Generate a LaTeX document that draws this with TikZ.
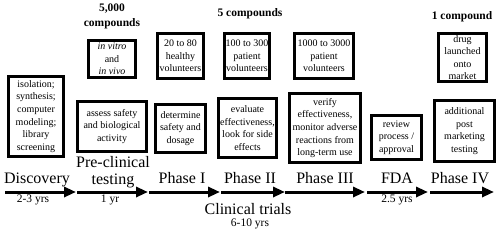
\documentclass[tikz,border=0pt]{standalone}
\usepackage{fontspec}
\setmainfont{Liberation Serif}
\usetikzlibrary{arrows.meta,positioning}
\tikzset{
  stepbox/.style={draw, line width=3pt, align=center, inner sep=1pt, font=\fontsize{10}{12.6}\selectfont},
  stagearrow/.style={-{Triangle[length=12pt,width=10pt]}, line width=3pt},
  stage/.style={anchor=base, inner sep=0pt, font=\fontsize{16}{17}\selectfont},
  span/.style={anchor=base, inner sep=0pt, font=\fontsize{11.5}{12}\selectfont},
  count/.style={anchor=base, inner sep=0pt, font=\bfseries\fontsize{11.5}{12}\selectfont}
}

\begin{document}
\begin{tikzpicture}[x=1pt, y=-1pt]
  \useasboundingbox (0,0) rectangle (500,231);

  % compound counts
  \node[count] (n5000) at (112,11) {5,000};
  \node[count] (ncomp) at (112,26) {compounds};
  \node[count] (n5) at (250,16) {5 compounds};
  \node[count] (n1) at (462,19) {1 compound};

  % upper boxes
  \node[stepbox, minimum width=47pt, minimum height=37pt] (vitro) at (112,59) {\textit{in vitro}\\and\\\textit{in vivo}};
  \node[stepbox, minimum width=46pt, minimum height=45pt] (healthy) at (180.5,56) {20 to 80\\healthy\\volunteers};
  \node[stepbox, minimum width=45pt, minimum height=45pt] (pat1) at (247,56) {100 to 300\\patient\\volunteers};
  \node[stepbox, minimum width=59pt, minimum height=45pt] (pat2) at (324,56) {1000 to 3000\\patient\\volunteers};
  \node[stepbox, minimum width=48pt, minimum height=48pt] (market) at (462.5,57.5) {drug\\launched\\onto\\market};

  % lower boxes
  \node[stepbox, minimum width=55pt, minimum height=80pt] (disc) at (36,116.5) {isolation;\\synthesis;\\computer\\modeling;\\library\\screening};
  \node[stepbox, minimum width=69pt, minimum height=50pt] (pre) at (112,126.5) {assess safety\\and biological\\activity};
  \node[stepbox, minimum width=50pt, minimum height=48pt] (ph1) at (180.5,128.5) {determine\\safety and\\dosage};
  \node[stepbox, minimum width=58pt, minimum height=59pt] (ph2) at (247.5,128) {evaluate\\effectiveness,\\look for side\\effects};
  \node[stepbox, minimum width=71pt, minimum height=69pt] (ph3) at (325,128) {verify\\effectiveness,\\monitor adverse\\reactions from\\long-term use};
  \node[stepbox, minimum width=50pt, minimum height=44pt] (fda) at (396.5,137.5) {review\\process /\\approval};
  \node[stepbox, minimum width=60pt, minimum height=61pt] (ph4) at (464.5,131) {additional\\post\\marketing\\testing};

  % stage names
  \node[stage] (ldisc) at (37,183) {Discovery};
  \node[stage] (lpre1) at (113,167) {Pre-clinical};
  \node[stage] (lpre2) at (113,184) {testing};
  \node[stage] (lph1) at (182,183) {Phase I};
  \node[stage] (lph2) at (250,183) {Phase II};
  \node[stage] (lph3) at (325,183) {Phase III};
  \node[stage] (lfda) at (397,183) {FDA};
  \node[stage] (lph4) at (460,183) {Phase IV};

  % time line
  \coordinate (t0) at (5,192);
  \coordinate (t1) at (76,192);
  \coordinate (t1b) at (77,192);
  \coordinate (t2) at (148,192);
  \coordinate (t2b) at (149,192);
  \coordinate (t3) at (220,192);
  \coordinate (t3b) at (221,192);
  \coordinate (t4) at (285,192);
  \coordinate (t5) at (365,192);
  \coordinate (t5b) at (367,192);
  \coordinate (t6) at (428,192);
  \coordinate (t6b) at (430,192);
  \coordinate (t7) at (494,192);

  \draw[stagearrow] (t0) -- (t1);
  \draw[stagearrow] (t1b) -- (t2);
  \draw[stagearrow] (t2b) -- (t3);
  \draw[stagearrow] (t3b) -- (t4);
  \draw[stagearrow] (t4) -- (t5);
  \draw[stagearrow] (t5b) -- (t6);
  \draw[stagearrow] (t6b) -- (t7);

  % durations
  \node[span] (ydisc) at (33,202) {2-3 yrs};
  \node[span] (ypre) at (110,202) {1 yr};
  \node[span] (yfda) at (397,202) {2.5 yrs};
  \node[stage] (clin) at (248,214) {Clinical trials};
  \node[span] (yclin) at (250,226) {6-10 yrs};
\end{tikzpicture}
\end{document}
